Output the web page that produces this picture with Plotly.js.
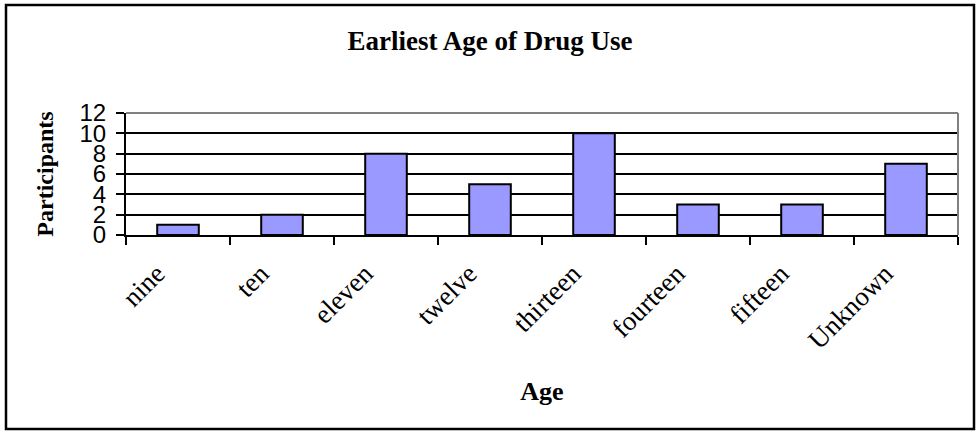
<!DOCTYPE html>
<html>
<head>
<meta charset="utf-8">
<script src="https://cdn.plot.ly/plotly-3.0.1.min.js"></script>
<style>
html,body{margin:0;padding:0;background:#fff;}
#chart{width:976px;height:431px;}
</style>
</head>
<body>
<div id="chart"></div>
<script>
const categories = ["nine","ten","eleven","twelve","thirteen","fourteen","fifteen","Unknown"];
const participants = [1, 2, 8, 5, 10, 3, 3, 7];
const yTicks = [0, 2, 4, 6, 8, 10, 12];

const W = 976, H = 431;
const M = {l: 126, r: 18, t: 113, b: 196};
const pw = W - M.l - M.r, ph = H - M.t - M.b;
function px(x){ return (x - M.l) / pw; }
function py(y){ return (H - M.b - y) / ph; }

const trace = {
  type: 'bar',
  x: categories,
  y: participants,
  marker: {color: '#9999FF', line: {color: '#000000', width: 2}},
  hoverinfo: 'x+y'
};

const layout = {
  width: W, height: H,
  margin: M,
  paper_bgcolor: '#ffffff',
  plot_bgcolor: '#ffffff',
  showlegend: false,
  bargap: 0.6,
  title: {
    text: '<b>Earliest Age of Drug Use</b>',
    font: {family: 'Liberation Serif, Times New Roman, serif', size: 27, color: '#000'},
    x: 0.502, xanchor: 'center',
    y: 1 - 41/H, yanchor: 'middle'
  },
  xaxis: {
    type: 'category',
    showline: true, linecolor: '#000', linewidth: 2,
    ticks: 'outside', ticklen: 8, tickwidth: 2, tickcolor: '#000',
    tickson: 'boundaries',
    tickangle: -45,
    ticklabelshift: -21,
    ticklabelstandoff: 10,
    tickfont: {family: 'Liberation Serif, Times New Roman, serif', size: 27, color: '#000'},
    showgrid: false, zeroline: false,
    automargin: false,
    title: {
      text: '<b>Age</b>',
      font: {family: 'Liberation Serif, Times New Roman, serif', size: 26, color: '#000'},
      standoff: 28
    }
  },
  yaxis: {
    range: [0, 12],
    tickvals: yTicks,
    ticktext: yTicks.map(String),
    showline: true, linecolor: '#000', linewidth: 2,
    ticks: 'outside', ticklen: 8, tickwidth: 2, tickcolor: '#000',
    ticklabelstandoff: 5,
    tickfont: {family: 'Liberation Sans, Arial, sans-serif', size: 24, color: '#000'},
    showgrid: true, gridcolor: '#000', gridwidth: 2,
    zeroline: false,
    automargin: false,
    title: {
      text: '<b>Participants</b>',
      font: {family: 'Liberation Serif, Times New Roman, serif', size: 24, color: '#000'},
      standoff: 19
    }
  },
  shapes: [
    {type: 'line', xref: 'paper', yref: 'paper', x0: 0, x1: 1, y0: 1, y1: 1,
     line: {color: '#808080', width: 2}, layer: 'above'},
    {type: 'line', xref: 'paper', yref: 'paper', x0: 1, x1: 1, y0: 0, y1: 1,
     line: {color: '#808080', width: 2}, layer: 'above'},
    {type: 'rect', xref: 'paper', yref: 'paper',
     x0: px(6), x1: px(974), y0: py(429), y1: py(5),
     line: {color: '#000', width: 2.5}, fillcolor: 'rgba(0,0,0,0)', layer: 'above'}
  ]
};

Plotly.newPlot('chart', [trace], layout, {displayModeBar: false, staticPlot: true});
</script>
</body>
</html>
